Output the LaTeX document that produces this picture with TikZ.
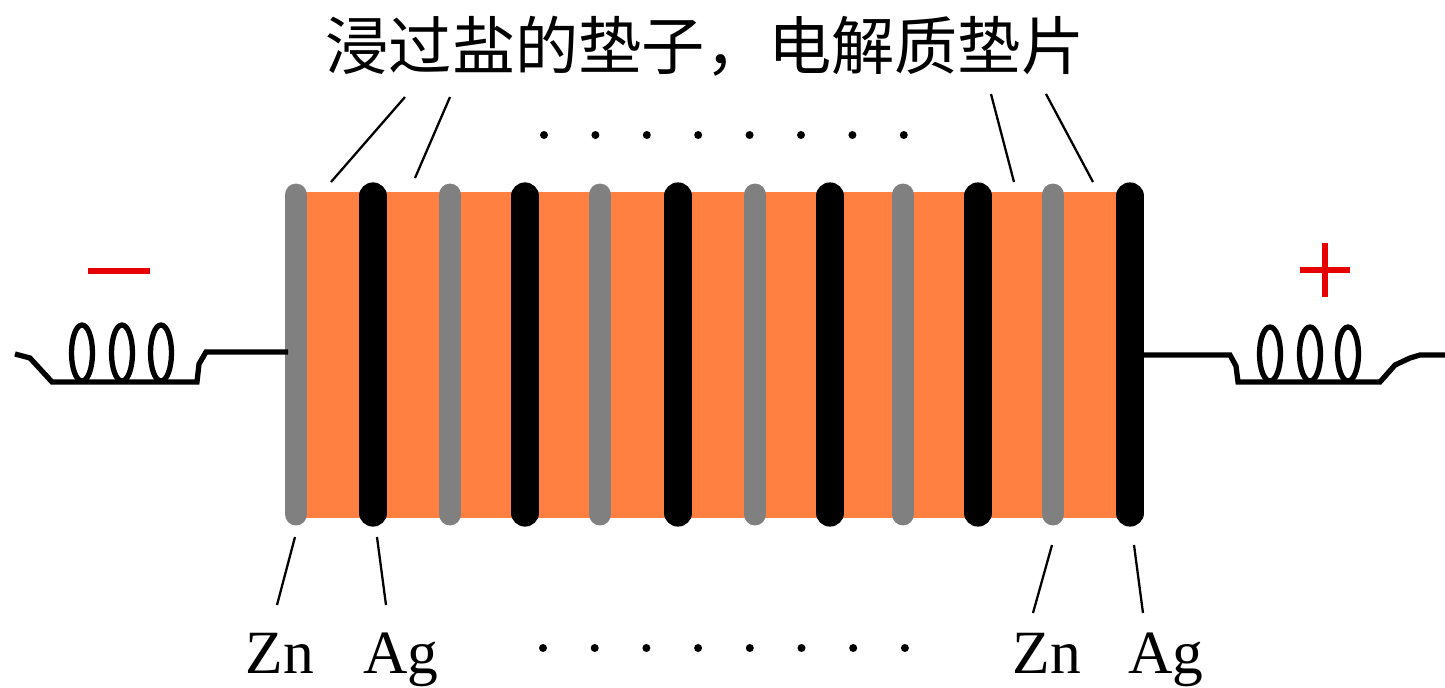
\documentclass[tikz,border=0pt]{standalone}
\usepackage{fontspec}
\setmainfont{Liberation Serif}
\newfontfamily\cjk{Noto Sans CJK SC}
\usetikzlibrary{positioning}
\definecolor{padorange}{RGB}{255,128,64}
\definecolor{zincgray}{RGB}{128,128,128}
\definecolor{polered}{RGB}{230,0,0}

\begin{document}
\begin{tikzpicture}[x=0.02cm,y=-0.02cm,
    wire/.style={line width=3pt, line join=miter},
    leader/.style={line width=1.3pt},
    pole/.style={polered, line width=3pt},
    metal/.style={font=\fontsize{35}{38}\selectfont, inner sep=0pt, anchor=base},
    plate/.style={line width=#1, line cap=round}]
   \useasboundingbox (0,0) rectangle (1445,687);

   % pile of pads and plates
   \fill [padorange] (296,192) rectangle (1130,518);
   \foreach \x [count=\i] in {296,450,600,755,903,1053}
      \draw [plate=13pt, zincgray] (\x,195) -- (\x,514);
   \foreach \x [count=\i] in {373,525,678,830,978,1130}
      \draw [plate=15.5pt, black] (\x,196) -- (\x,513);

   % leads with coils
   \draw [wire] (15,354) -- (30,358) -- (52,382) -- (197,382) -- (199,364)
      -- (206,352) -- (288,352);
   \foreach \x in {82,122,161}
      \draw [wire] (\x,353) ellipse [x radius=10.5, y radius=28];
   \draw [wire] (1140,355) -- (1230,355) -- (1236,366) -- (1238,382)
      -- (1380,382) -- (1395,365) -- (1410,358) -- (1420,355) -- (1445,355);
   \foreach \x in {1270,1310,1348}
      \draw [wire] (\x,354) ellipse [x radius=10.5, y radius=27];

   % signs
   \draw [pole] (88,271) -- (150,271);
   \draw [pole] (1300,270) -- (1350,270);
   \draw [pole] (1325,243) -- (1325,297);

   % top label
   \node [font=\cjk\fontsize{36}{40}\selectfont, inner sep=0pt] (pads) at (705,46)
      {浸过盐的垫子，电解质垫片};
   \coordinate (pads l1) at (405,97);
   \coordinate (pads l2) at (450,97);
   \coordinate (pads r1) at (991,94);
   \coordinate (pads r2) at (1046,94);
   \coordinate (pad1) at (331,182);
   \coordinate (pad2) at (415,178);
   \coordinate (pad5) at (1014,182);
   \coordinate (pad6) at (1093,182);
   \draw [leader] (pads l1) -- (pad1);
   \draw [leader] (pads l2) -- (pad2);
   \draw [leader] (pads r1) -- (pad5);
   \draw [leader] (pads r2) -- (pad6);

   % metal labels
   \node [metal] (zn1) at (280,673) {Zn};
   \node [metal] (ag1) at (401,673) {Ag};
   \node [metal] (zn2) at (1047,673) {Zn};
   \node [metal] (ag2) at (1166,673) {Ag};
   \coordinate (zn1 tip) at (295,537);
   \coordinate (ag1 tip) at (377,537);
   \coordinate (zn2 tip) at (1052,545);
   \coordinate (ag2 tip) at (1134,545);
   \coordinate (zn1 foot) at (277,605);
   \coordinate (ag1 foot) at (386,605);
   \coordinate (zn2 foot) at (1033,613);
   \coordinate (ag2 foot) at (1143,613);
   \draw [leader] (zn1 foot) -- (zn1 tip);
   \draw [leader] (ag1 foot) -- (ag1 tip);
   \draw [leader] (zn2 foot) -- (zn2 tip);
   \draw [leader] (ag2 foot) -- (ag2 tip);

   % dots
   \foreach \i in {0,...,7} {
      \fill (544+\i*51.4,135) circle (4);
      \fill (543+\i*51.7,648) circle (4);
   }
\end{tikzpicture}
\end{document}
